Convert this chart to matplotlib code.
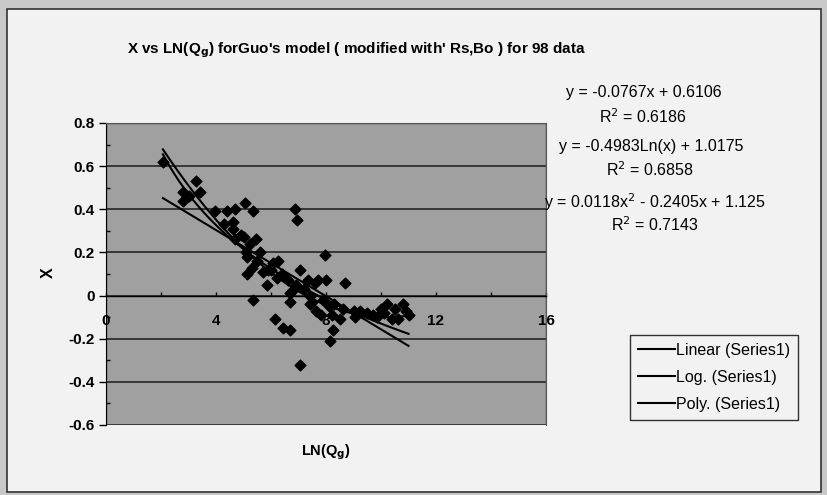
import numpy as np
import matplotlib
matplotlib.use("Agg")
import matplotlib.pyplot as plt
from matplotlib.patches import Rectangle

plt.rcParams['font.family'] = ['Liberation Sans', 'DejaVu Sans']

# scatter data (LN(Qg), X)
ln_qg = [2.07, 2.8, 2.8, 3.0, 3.27, 3.42, 3.96, 4.3, 4.4, 4.6, 4.62, 4.7, 4.7,
         4.9, 5.0, 5.05, 5.1, 5.13, 5.13, 5.24, 5.3, 5.35, 5.35, 5.45, 5.5,
         5.6, 5.7, 5.85, 5.9, 6.0, 6.07, 6.15, 6.2, 6.25, 6.4, 6.45, 6.6,
         6.7, 6.7, 6.7, 6.76, 6.87, 6.9, 6.95, 7.05, 7.05, 7.2, 7.35, 7.4,
         7.4, 7.5, 7.6, 7.65, 7.7, 7.8, 7.9, 7.96, 8.0, 8.1, 8.15, 8.2, 8.25,
         8.3, 8.5, 8.6, 8.7, 9.0, 9.05, 9.24, 9.5, 9.7, 9.85, 10.0, 10.1,
         10.2, 10.4, 10.5, 10.6, 10.8, 10.9, 11.0]
x_val = [0.62, 0.48, 0.44, 0.46, 0.53, 0.48, 0.39, 0.33, 0.39, 0.34, 0.31, 0.40,
         0.26, 0.28, 0.27, 0.43, 0.20, 0.18, 0.10, 0.24, 0.13, 0.39, -0.02,
         0.26, 0.16, 0.20, 0.11, 0.05, 0.12, 0.12, 0.15, -0.11, 0.08, 0.16,
         0.10, -0.15, 0.07, 0.01, -0.03, -0.16, 0.02, 0.40, 0.05, 0.35, 0.12,
         -0.32, 0.03, 0.07, 0.00, -0.04, -0.03, 0.06, -0.07, 0.07, -0.09,
         -0.02, 0.19, 0.07, -0.05, -0.21, -0.09, -0.16, -0.04, -0.11, -0.06,
         0.06, -0.07, -0.10, -0.07, -0.08, -0.09, -0.10, -0.06, -0.08, -0.04,
         -0.11, -0.06, -0.11, -0.04, -0.07, -0.09]

# trendline coefficients as printed on the chart
lin_coef = [-0.0767, 0.6106]
log_coef = [-0.4983, 1.0175]
poly_coef = [0.0118, -0.2405, 1.125]
eq_texts = ["y = -0.0767x + 0.6106", "R$^2$ = 0.6186",
            "y = -0.4983Ln(x) + 1.0175", "R$^2$ = 0.6858",
            "y = 0.0118x$^2$ - 0.2405x + 1.125", "R$^2$ = 0.7143"]
legend_labels = ["Linear (Series1)", "Log. (Series1)", "Poly. (Series1)"]

W, H = 827, 495
fig = plt.figure(figsize=(W / 100, H / 100), dpi=100)
fig.patch.set_facecolor('#c8c8c8')

# chart area with border
fig.patches.append(Rectangle((7 / W, 1 - 492 / H), 814 / W, 483 / H,
                             transform=fig.transFigure, facecolor='#f2f2f2',
                             edgecolor='#333333', lw=1.2, zorder=-5))

ax = fig.add_axes([106 / W, 1 - 425 / H, 440 / W, 302 / H])
ax.set_facecolor('#a0a0a0')
ax.set_xlim(0, 16)
ax.set_ylim(-0.6, 0.8)

ax.set_yticks(np.arange(-0.6, 0.81, 0.2))
ax.set_yticklabels(['-0.6', '-0.4', '-0.2', '0', '0.2', '0.4', '0.6', '0.8'])
ax.set_yticks(np.arange(-0.5, 0.8, 0.2), minor=True)
ax.set_xticks([0, 4, 8, 12, 16])
ax.set_xticks([2, 6, 10, 14], minor=True)
ax.yaxis.grid(True, which='major', color='#1a1a1a', lw=1.1)
ax.set_axisbelow(True)

ax.spines['bottom'].set_position(('data', 0))
ax.spines['bottom'].set_linewidth(1.0)
for s in ['top', 'right']:
    ax.spines[s].set_color('#555555')
ax.tick_params(axis='y', which='major', direction='out', length=5, width=1,
               labelsize=11, pad=3)
ax.tick_params(axis='y', which='minor', direction='in', length=3, width=1)
ax.tick_params(axis='x', which='both', direction='in', length=3, width=1,
               labelsize=11, pad=13)
for lab in ax.get_xticklabels() + ax.get_yticklabels():
    lab.set_fontweight('bold')

# plot-area frame (bottom spine sits on the zero line)
ax.add_patch(Rectangle((0, -0.6), 16, 1.4, fill=False, edgecolor='#444444',
                       lw=1.0, zorder=1))

ax.scatter(ln_qg, x_val, marker='D', s=30, color='black', zorder=4)

xs = np.linspace(min(ln_qg), max(ln_qg), 200)
ax.plot(xs, lin_coef[0] * xs + lin_coef[1], color='black', lw=1.5, zorder=5)
ax.plot(xs, log_coef[0] * np.log(xs) + log_coef[1], color='black', lw=1.5,
        zorder=5)
ax.plot(xs, np.polyval(poly_coef, xs), color='black', lw=1.5, zorder=5)

fig.text(357 / W, 1 - 50 / H,
         r"X vs LN(Q$_{\mathbf{g}}$) forGuo's model ( modified with' Rs,Bo ) for 98 data",
         ha='center', va='center', fontsize=11, fontweight='bold')
fig.text(48 / W, 1 - 273 / H, "X", rotation=90, ha='center', va='center',
         fontsize=11.5, fontweight='bold')
fig.text(326 / W, 1 - 452 / H, r"LN(Q$_{\mathbf{g}}$)", ha='center',
         va='center', fontsize=10.5, fontweight='bold')

eq_pos = [(644, 92), (643, 117), (651, 146), (650, 170), (655, 202), (655, 225)]
for txt, (px, py) in zip(eq_texts, eq_pos):
    fig.text(px / W, 1 - py / H, txt, ha='center', va='center', fontsize=11.5)

handles = [plt.Line2D([], [], color='black', lw=1.5) for _ in legend_labels]
leg = fig.legend(handles, legend_labels, loc='upper left',
                 bbox_to_anchor=(630 / W, 1 - 335 / H), fontsize=11.5,
                 frameon=True, fancybox=False, handlelength=2.3,
                 handletextpad=0.1, labelspacing=0.75, borderpad=0.5,
                 borderaxespad=0)
leg.get_frame().set_edgecolor('black')
leg.get_frame().set_facecolor('#f2f2f2')
leg.get_frame().set_linewidth(1.0)

fig.savefig('out.png', dpi=100, facecolor=fig.get_facecolor())
